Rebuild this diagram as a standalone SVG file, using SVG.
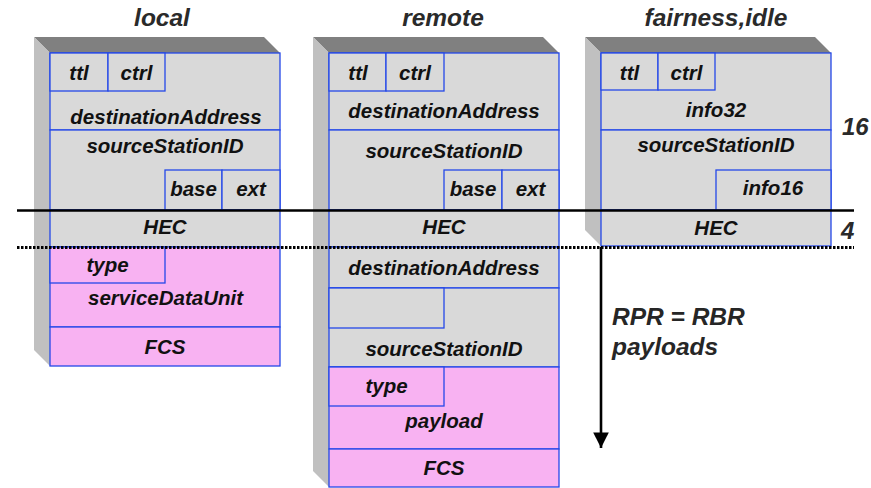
<svg xmlns="http://www.w3.org/2000/svg" width="871" height="488" viewBox="0 0 871 488">
<defs>
<style>
.side{fill:#c0c0c0;}
.top{fill:#808080;}
.g{fill:#d9d9d9;stroke:#2448e8;stroke-width:1.3;}
.p{fill:#f8b2f2;stroke:#2448e8;stroke-width:1.3;}
text{font-family:"Liberation Sans",Arial,sans-serif;font-weight:bold;font-style:italic;fill:#111;text-anchor:middle;}
.lb{font-size:20.5px;}
.tt{font-size:24.5px;fill:#2a2a2a;}
.num{font-size:24px;fill:#2a2a2a;text-anchor:start;}
.note{font-size:24.5px;fill:#262626;text-anchor:start;}
</style>
<marker id="arr" viewBox="0 0 10 10" refX="10" refY="5" markerWidth="6" markerHeight="6" orient="auto" markerUnits="strokeWidth">
<path d="M0,0 L10,5 L0,10 z" fill="#000"/>
</marker>
</defs>
<rect width="871" height="488" fill="#fff"/>

<g id="local">
<text class="tt" x="162" y="26">local</text>
<polygon class="top" points="34,37 264,37 280,53 50,53"/>
<polygon class="side" points="34,37 50,53 50,366 34,350"/>
<rect class="g" x="50" y="53" width="230" height="77"/>
<rect class="g" x="50" y="53" width="58" height="38"/>
<rect class="g" x="108" y="53" width="57" height="38"/>
<rect class="g" x="50" y="130" width="230" height="80"/>
<rect class="g" x="165" y="170" width="57" height="40"/>
<rect class="g" x="222" y="170" width="58" height="40"/>
<rect class="g" x="50" y="210" width="230" height="37"/>
<rect class="p" x="50" y="247" width="230" height="80"/>
<rect class="p" x="50" y="247" width="115" height="36"/>
<rect class="p" x="50" y="327" width="230" height="39"/>
<text class="lb" x="79" y="80">ttl</text>
<text class="lb" x="136.5" y="80">ctrl</text>
<text class="lb" x="166" y="124">destinationAddress</text>
<text class="lb" x="165" y="153">sourceStationID</text>
<text class="lb" x="193.5" y="196">base</text>
<text class="lb" x="251" y="196">ext</text>
<text class="lb" x="165" y="234">HEC</text>
<text class="lb" x="107.5" y="272">type</text>
<text class="lb" x="165.5" y="305">serviceDataUnit</text>
<text class="lb" x="165" y="354">FCS</text>
</g>

<g id="remote">
<text class="tt" x="443" y="26">remote</text>
<polygon class="top" points="313,37 543,37 559,53 329,53"/>
<polygon class="side" points="313,37 329,53 329,487 313,471"/>
<rect class="g" x="329" y="53" width="230" height="77"/>
<rect class="g" x="329" y="53" width="57" height="38"/>
<rect class="g" x="386" y="53" width="58" height="38"/>
<rect class="g" x="329" y="130" width="230" height="80"/>
<rect class="g" x="444" y="170" width="58" height="40"/>
<rect class="g" x="502" y="170" width="57" height="40"/>
<rect class="g" x="329" y="210" width="230" height="37"/>
<rect class="g" x="329" y="247" width="230" height="41"/>
<rect class="g" x="329" y="288" width="230" height="79"/>
<rect class="g" x="329" y="288" width="115" height="40"/>
<rect class="p" x="329" y="367" width="230" height="82"/>
<rect class="p" x="329" y="367" width="115" height="39"/>
<rect class="p" x="329" y="449" width="230" height="38"/>
<text class="lb" x="358" y="80">ttl</text>
<text class="lb" x="415" y="80">ctrl</text>
<text class="lb" x="444" y="118">destinationAddress</text>
<text class="lb" x="444" y="158">sourceStationID</text>
<text class="lb" x="473" y="196">base</text>
<text class="lb" x="530.5" y="196">ext</text>
<text class="lb" x="444" y="234">HEC</text>
<text class="lb" x="444" y="275">destinationAddress</text>
<text class="lb" x="444" y="356">sourceStationID</text>
<text class="lb" x="386.5" y="393">type</text>
<text class="lb" x="444" y="428">payload</text>
<text class="lb" x="444" y="475">FCS</text>
</g>

<g id="fairness">
<text class="tt" x="716" y="26">fairness,idle</text>
<polygon class="top" points="585,37 815,37 831,53 601,53"/>
<polygon class="side" points="585,37 601,53 601,246 585,230"/>
<rect class="g" x="601" y="53" width="230" height="77"/>
<rect class="g" x="601" y="53" width="57" height="37"/>
<rect class="g" x="658" y="53" width="57" height="37"/>
<rect class="g" x="601" y="130" width="230" height="80"/>
<rect class="g" x="716" y="170" width="115" height="40"/>
<rect class="g" x="601" y="210" width="230" height="36"/>
<text class="lb" x="629.5" y="80">ttl</text>
<text class="lb" x="686.5" y="80">ctrl</text>
<text class="lb" x="716" y="117">info32</text>
<text class="lb" x="716" y="152">sourceStationID</text>
<text class="lb" x="773" y="195">info16</text>
<text class="lb" x="716" y="235">HEC</text>
</g>

<g id="connectors">
<line x1="17" y1="210.5" x2="854" y2="210.5" stroke="#000" stroke-width="2.5"/>
<line x1="17" y1="247.5" x2="854" y2="247.5" stroke="#000" stroke-width="3" stroke-dasharray="2.5,1.5"/>
<line x1="601" y1="247" x2="601" y2="448" stroke="#000" stroke-width="2.6" marker-end="url(#arr)"/>
</g>

<g id="labels">
<text class="num" x="842" y="135">16</text>
<text class="num" x="841" y="239">4</text>
<text class="note" x="612" y="325">RPR = RBR</text>
<text class="note" x="612" y="355">payloads</text>
</g>
</svg>
